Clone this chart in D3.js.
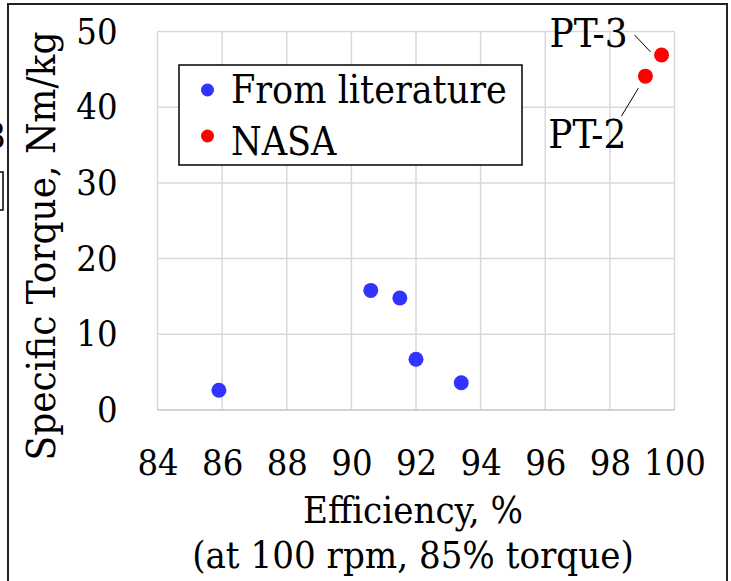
<!DOCTYPE html>
<html>
<head>
<meta charset="utf-8">
<script src="https://cdn.jsdelivr.net/npm/d3@7"></script>
<style>
  body { margin: 0; background: #fff; }
  svg { display: block; }
  text { font-family: "DejaVu Serif Condensed", "DejaVu Serif", serif; font-stretch: condensed; fill: #000; }
</style>
</head>
<body>
<svg id="chart"></svg>
<script>
// data
var litEff = [85.9, 90.6, 91.5, 92.0, 93.4];
var litTorque = [2.6, 15.8, 14.8, 6.7, 3.6];
var nasaEff = [99.1, 99.6];
var nasaTorque = [44.1, 46.9];
var nasaLabels = ["PT-2", "PT-3"];
var xTicks = [84, 86, 88, 90, 92, 94, 96, 98, 100];
var yTicks = [0, 10, 20, 30, 40, 50];
var seriesNames = ["From literature", "NASA"];
var seriesColors = ["#3333ff", "#ff0000"];

var W = 731, H = 581;
var plot = {left: 157.5, right: 674.5, top: 31.5, bottom: 410};
var FONT = "'DejaVu Serif Condensed', 'DejaVu Serif', serif";

var svg = d3.select("#chart").attr("width", W).attr("height", H);

var xScale = d3.scaleLinear().domain([84, 100]).range([plot.left, plot.right]);
var yScale = d3.scaleLinear().domain([0, 50]).range([plot.bottom, plot.top]);

// bits of the neighbouring figure cut off at the left edge
svg.append("text").attr("x", -15).attr("y", 148).style("font-size", "36px").text("8");
svg.append("rect").attr("x", -20).attr("y", 172).attr("width", 23).attr("height", 38)
  .attr("fill", "none").attr("stroke", "#000").attr("stroke-width", 1.5);

// outer frame
svg.append("path")
  .attr("d", "M8," + (H + 2) + "V4H727V" + (H + 2))
  .attr("fill", "none").attr("stroke", "#222").attr("stroke-width", 2);

//gridlines
svg.append("g").selectAll("line").data(xTicks).enter().append("line")
  .attr("x1", function(d) { return xScale(d); })
  .attr("x2", function(d) { return xScale(d); })
  .attr("y1", plot.top).attr("y2", plot.bottom)
  .attr("stroke", "#d9d9d9").attr("stroke-width", 1.5);

svg.append("g").selectAll("line").data(yTicks).enter().append("line")
  .attr("x1", plot.left).attr("x2", plot.right)
  .attr("y1", function(d) { return yScale(d); })
  .attr("y2", function(d) { return yScale(d); })
  .attr("stroke", function(d) { return d === 0 ? "#c4c4c4" : "#d9d9d9"; })
  .attr("stroke-width", 1.5);

//axes (labels only)
var xAxis = svg.append("g")
  .attr("transform", "translate(0," + plot.bottom + ")")
  .call(d3.axisBottom(xScale).tickValues(xTicks).tickSize(0).tickPadding(39));
var yAxis = svg.append("g")
  .attr("transform", "translate(" + plot.left + ",0)")
  .call(d3.axisLeft(yScale).tickValues(yTicks).tickSize(0).tickPadding(40));
[xAxis, yAxis].forEach(function(a) {
  a.select(".domain").remove();
  a.selectAll("text").attr("font-family", FONT).style("font-stretch", "condensed")
    .style("font-size", "36px").attr("fill", "#000");
});

//axis titles
svg.append("text")
  .attr("transform", "translate(55,246) rotate(-90)")
  .style("text-anchor", "middle").style("font-size", "40px")
  .text("Specific Torque, Nm/kg");
svg.append("text")
  .attr("x", 413).attr("y", 523)
  .style("text-anchor", "middle").style("font-size", "38px")
  .text("Efficiency, %");
svg.append("text")
  .attr("x", 413).attr("y", 568)
  .style("text-anchor", "middle").style("font-size", "38px")
  .text("(at 100 rpm, 85% torque)");

//points
svg.append("g").selectAll("circle").data(litEff).enter().append("circle")
  .attr("cx", function(d) { return xScale(d); })
  .attr("cy", function(d, i) { return yScale(litTorque[i]); })
  .attr("r", 7.5).attr("fill", seriesColors[0]);

svg.append("g").selectAll("circle").data(nasaEff).enter().append("circle")
  .attr("cx", function(d) { return xScale(d); })
  .attr("cy", function(d, i) { return yScale(nasaTorque[i]); })
  .attr("r", 7.5).attr("fill", seriesColors[1]);

//data labels with leader lines
var labelOffsets = [
  {tx: -19, ty: 72, x1: -7, y1: 12, x2: -24, y2: 40},
  {tx: -34, ty: -8, x1: -11, y1: -3, x2: -27, y2: -20}
];
nasaLabels.forEach(function(lab, i) {
  var px = xScale(nasaEff[i]), py = yScale(nasaTorque[i]), o = labelOffsets[i];
  svg.append("line")
    .attr("x1", px + o.x1).attr("y1", py + o.y1)
    .attr("x2", px + o.x2).attr("y2", py + o.y2)
    .attr("stroke", "#000").attr("stroke-width", 1);
  svg.append("text")
    .attr("x", px + o.tx).attr("y", py + o.ty)
    .style("text-anchor", "end").style("font-size", "40px")
    .text(lab);
});

//legend
var leg = svg.append("g");
leg.append("rect")
  .attr("x", 179).attr("y", 65).attr("width", 343).attr("height", 100)
  .attr("fill", "#fff").attr("stroke", "#000").attr("stroke-width", 1.5);
seriesNames.forEach(function(name, i) {
  leg.append("circle")
    .attr("cx", 207.5).attr("cy", 90 + i * 46)
    .attr("r", 6.5).attr("fill", seriesColors[i]);
  leg.append("text")
    .attr("x", 231).attr("y", 103 + i * 52)
    .style("font-size", "39px")
    .text(name);
});
</script>
</body>
</html>
